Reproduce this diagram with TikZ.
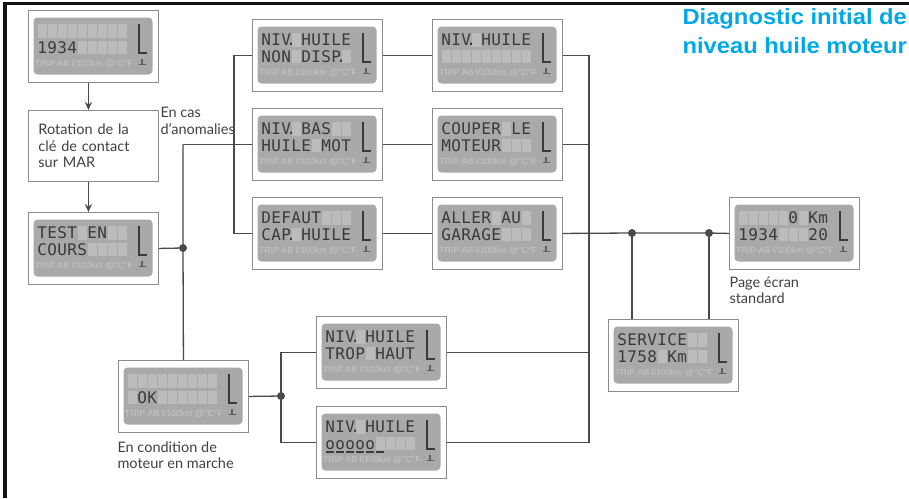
\documentclass[tikz,border=0pt]{standalone}
\usepackage{fontspec}
\setmainfont{Lato}
\setmonofont{DejaVu Sans Mono}
\newfontfamily\titlefont[FakeStretch=1.08]{Liberation Sans}
\newfontfamily\smallfont{Liberation Sans}
\usetikzlibrary{arrows.meta, positioning, calc}
\definecolor{ctitle}{HTML}{00A9E6}
\definecolor{clcd}{HTML}{A9A9A9}
\definecolor{ccell}{HTML}{BCBCBC}
\definecolor{cseg}{HTML}{3A3A3A}
\definecolor{cfaint}{HTML}{C6C6C6}
\definecolor{cline}{HTML}{4A4A4A}
\definecolor{cedge}{HTML}{8C8C8C}
\definecolor{ctext}{HTML}{404040}
\tikzset{
  every picture/.style={x=1pt, y=-1pt, line width=1pt},
  frame/.style={draw=cedge, fill=white, line width=0.9pt, inner sep=0pt,
                minimum width=130pt, minimum height=72pt, anchor=north west},
  screen/.style={fill=clcd, rounded corners=4pt, inner sep=0pt,
                 minimum width=119pt, minimum height=57pt, anchor=north west},
  cell/.style={fill=ccell},
  seg/.style={text=cseg, font=\ttfamily\fontsize{16}{16}\selectfont, inner sep=0pt, anchor=base},
  faint/.style={text=cfaint, font=\smallfont\fontsize{8.8}{9}\selectfont, inner sep=0pt},
  bar/.style={draw=cseg, line width=1.3pt},
  stub/.style={draw=cseg, line width=2.6pt},
  icon/.style={draw=cseg!80, line width=1.2pt},
  link/.style={draw=cline, line width=1.3pt},
  arrow/.style={-{Stealth[length=8pt, width=7pt]}, draw=cline, line width=1.3pt},
  dot/.style={circle, fill=cline, inner sep=0pt, minimum size=8pt},
  note/.style={text=ctext, font=\fontsize{14.5}{16.5}\selectfont, align=left, inner sep=0pt, anchor=north west},
  title/.style={text=ctitle, font=\titlefont\bfseries\fontsize{22}{29}\selectfont, align=left, inner sep=0pt},
  border/.style={draw=black!92, line width=3.6pt},
}
\newcommand\lcddot{\rlap{\kern-.3em.}}
\def\lcdblank{-}
% one row of nine cells, "-" is an empty cell
\newcommand\lcdrow[3]{%
  \foreach \c [count=\i from 0] in {#3}{
    \ifx\c\lcdblank
      \fill[cell] (10+10*\i,#2) rectangle ++(8.5,13.5);
    \else
      \node[seg] (#1\i) at (14.25+10*\i,#2+12.5) {\c};
    \fi
  }}
% display: name, top left corner, first line, second line
\newcommand\lcd[4]{%
  \node[frame] (#1) at (#2) {};
  \begin{scope}[shift={(#1.north west)}]
    \node[screen] (#1-s) at (5,7) {};
    \lcdrow{#1-a}{14}{#3}
    \lcdrow{#1-b}{30.5}{#4}
    \draw[bar] (111,14) -- (111,44);
    \draw[stub] (111,43) -- (119,43);
    \node[faint] (#1-t) at (56,53.5) {TRIP AB l/100km @°C°F};
    \draw[icon] (114,48.5) -- (114,54.5) (110.5,54.5) -- (117.5,54.5);
  \end{scope}}

\begin{document}
\begin{tikzpicture}
  \useasboundingbox (0,0) rectangle (909,498);
  \draw[border] (5,498) -- (5,3.3) -- (909,3.3);
  \node[title, anchor=north west] (ttl) at (682,8) {Diagnostic initial de\\niveau huile moteur};
  % left column
  \lcd{disp}{28,10}{-,-,-,-,-,-,-,-,-}{1,9,3,4,-,-,-,-,-}
  \node[frame, minimum height=71pt, text width=110pt, inner xsep=10pt, align=left,
        font=\fontsize{14.5}{16.5}\selectfont, text=ctext] (rot) at (28,110)
        {Rotation de la\\clé de contact\\sur MAR};
  \lcd{test}{28,212}{T,E,S,T,-,E,N,-,-}{C,O,U,R,S,-,-,-,-}
  \node[note] (anom) at (160,107) {En cas\\d’anomalies};
  % anomalies
  \lcd{nd}{252,19}{N,I,V\lcddot,-,H,U,I,L,E}{N,O,N,-,D,I,S,P\lcddot,-}
  \lcd{nb}{252,108}{N,I,V\lcddot,-,B,A,S,-,-}{H,U,I,L,E,-,M,O,T}
  \lcd{dc}{252,197}{D,E,F,A,U,T,-,-,-}{C,A,P\lcddot,-,H,U,I,L,E}
  \lcd{nh}{432,19}{N,I,V\lcddot,-,H,U,I,L,E}{-,-,-,-,-,-,-,-,-}
  \lcd{cm}{432,108}{C,O,U,P,E,R,-,L,E}{M,O,T,E,U,R,-,-,-}
  \lcd{ag}{432,197}{A,L,L,E,R,-,A,U,-}{G,A,R,A,G,E,-,-,-}
  % engine running
  \lcd{ok}{118,360}{-,-,-,-,-,-,-,-,-}{-,O,K,-,-,-,-,-,-}
  \node[note] (cond) at (117,441) {En condition de\\moteur en marche};
  \lcd{th}{316,316}{N,I,V\lcddot,-,H,U,I,L,E}{T,R,O,P,-,H,A,U,T}
  \lcd{zh}{316,406}{N,I,V\lcddot,-,H,U,I,L,E}{o,o,o,o,o,-,-,-,-}
  \begin{scope}[shift={(zh.north west)}]
    \foreach \i in {0,...,5} \draw[draw=cseg, line width=1.3pt] (10+10*\i,46) -- ++(7.5,0);
  \end{scope}
  % standard page
  \lcd{std}{729,197}{-,-,-,-,-,0,-,K,m}{1,9,3,4,-,-,-,2,0}
  \node[note] (page) at (729,276) {Page écran\\standard};
  \lcd{srv}{608,319}{S,E,R,V,I,C,E,-,-}{1,7,5,8,-,K,m,-,-}
  % dots
  \node[dot] (d1) at (183,248) {};
  \node[dot] (d2) at (632,233) {};
  \node[dot] (d3) at (709,233) {};
  \node[dot] (d4) at (281,396) {};
  % connectors
  \draw[arrow] ([xshift=-5pt]disp.south) -- ([xshift=-5pt]rot.north);
  \draw[arrow] ([xshift=-5pt]rot.south) -- ([xshift=-5pt]test.north);
  \coordinate (j1) at (d1 |- nb.west);
  \draw[link] (test.east) -- (d1.center);
  \draw[link] (j1) -- (d1.center) -- (ok.north);
  \draw[link] (j1) -- (nb.west);
  \draw[link] (nd.west) -- ++(-18,0) |- (dc.west);
  \draw[link] (nd.east) -- (nh.west);
  \draw[link] (nb.east) -- (cm.west);
  \draw[link] (dc.east) -- (ag.west);
  \coordinate (b1) at ($(nh.east)+(26,0)$);
  \coordinate (b2) at (b1 |- zh.east);
  \draw[link] (nh.east) -- (b1) -- (b2) -- (zh.east);
  \draw[link] (cm.east) -- (cm.east -| b1);
  \draw[link] (th.east) -- (th.east -| b1);
  \draw[link] (ag.east) -- (d2.center) -- (d3.center) -- (std.west);
  \draw[link] (d2.center) -- (d2 |- srv.north);
  \draw[link] (d3.center) -- (d3 |- srv.north);
  \draw[link] (ok.east) -- (d4.center);
  \draw[link] (th.west) -| (d4.center) |- (zh.west);
\end{tikzpicture}
\end{document}
